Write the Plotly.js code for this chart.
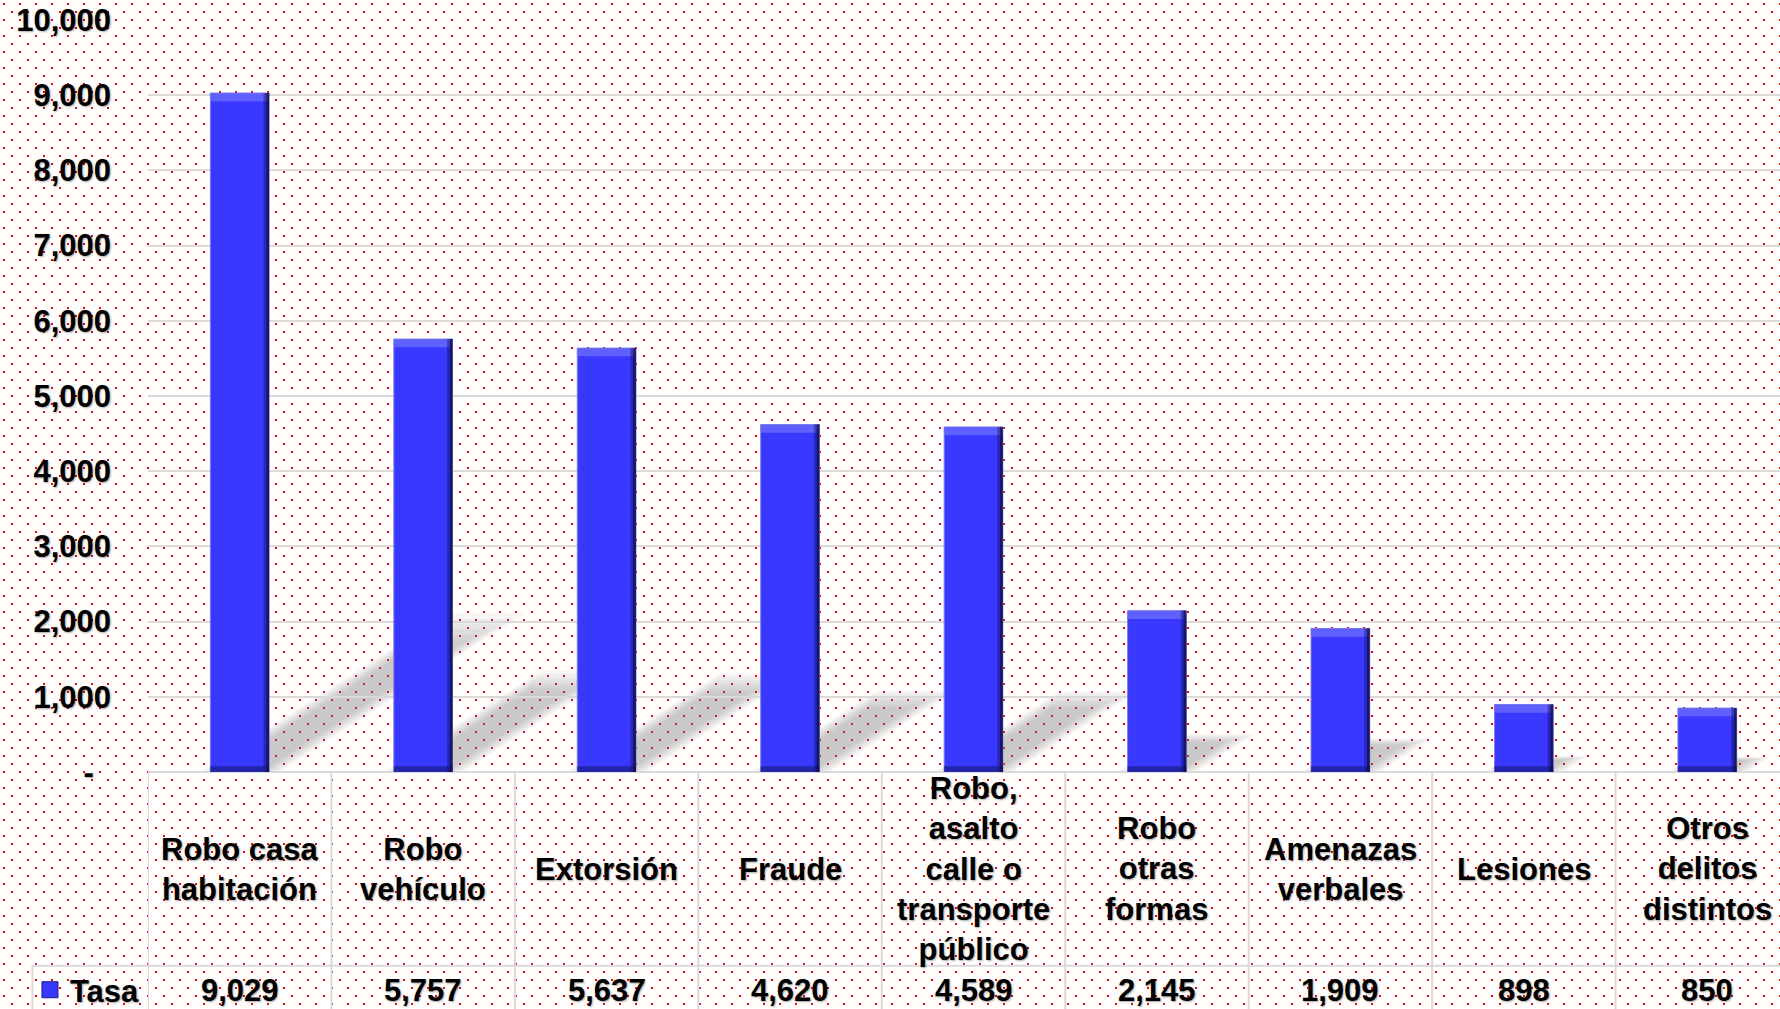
<!DOCTYPE html>
<html>
<head>
<meta charset="utf-8">
<script src="https://cdn.plot.ly/plotly-3.0.1.min.js"></script>
<style>
  html, body {
    margin: 0;
    padding: 0;
    overflow: hidden;
    background-color: #ffffff;
    background-image: url("data:image/svg+xml;utf8,<svg xmlns='http://www.w3.org/2000/svg' width='16' height='16'><rect x='3' y='3' width='2' height='2' fill='%23ff0000'/><rect x='11' y='11' width='2' height='2' fill='%23ff0000'/></svg>");
  }
  #grafico { width: 1800px; height: 1009px; }
</style>
</head>
<body>
<div id="grafico"></div>
<script>
// delitos y tasa por cada 100 mil habitantes
var categorias = [
    'Robo casa<br>habitación',
    'Robo<br>vehículo',
    'Extorsión',
    'Fraude',
    'Robo,<br>asalto<br>calle o<br>transporte<br>público',
    'Robo<br>otras<br>formas',
    'Amenazas<br>verbales',
    'Lesiones',
    'Otros<br>delitos<br>distintos'
];
var tasa = [9029, 5757, 5637, 4620, 4589, 2145, 1909, 898, 850];

var ejeValores = [0, 1000, 2000, 3000, 4000, 5000, 6000, 7000, 8000, 9000, 10000];
var ejeTextos = ['-\u00a0\u00a0', '1,000', '2,000', '3,000', '4,000', '5,000',
                 '6,000', '7,000', '8,000', '9,000', '10,000'];

var fuente = 'Liberation Sans, Arial, sans-serif';
var sombra = '1px 1px 2px rgba(0,0,0,0.35)';
var gris = '#d9d9d9';
var azul = '#3838ff';

var n = categorias.length;
var xs = categorias.map(function(c, i) { return i; });
var medio = 0.16; // media anchura de barra (1 - bargap) / 2

// barra principal
var principal = {
    x: xs, y: tasa, type: 'bar', name: 'Tasa', showlegend: false,
    marker: {color: azul, line: {color: '#8080d8', width: 1}},
    hoverinfo: 'skip'
};
// bisel superior (mas claro)
var biselSup = {
    x: xs, y: tasa.map(function() { return 110; }),
    base: tasa.map(function(v) { return v - 110; }),
    type: 'bar', showlegend: false, hoverinfo: 'skip',
    marker: {color: 'rgba(110,110,255,0.75)'}
};
// bisel inferior (mas oscuro)
var biselInf = {
    x: xs, y: tasa.map(function() { return 75; }),
    type: 'bar', showlegend: false, hoverinfo: 'skip',
    marker: {color: 'rgba(30,30,150,0.8)'}
};
// borde derecho oscuro
var borde1 = {
    x: xs, y: tasa, type: 'bar', showlegend: false, hoverinfo: 'skip',
    width: 0.03, offset: 0.13,
    marker: {color: 'rgba(20,20,110,0.45)'}
};
var borde2 = {
    x: xs, y: tasa, type: 'bar', showlegend: false, hoverinfo: 'skip',
    width: 0.015, offset: 0.145,
    marker: {color: 'rgba(10,10,50,0.6)'}
};
// clave de leyenda "Tasa"
var clave = {
    x: [null], y: [null], type: 'scatter', mode: 'markers', name: 'Tasa',
    marker: {symbol: 'square', size: 16, color: azul, line: {color: '#1a1a80', width: 1}},
    hoverinfo: 'skip'
};

var anotaciones = [];
var formas = [];
for (var i = 0; i < n; i++) {
    anotaciones.push({
        x: i, xref: 'x', y: -0.129, yref: 'paper',
        text: categorias[i], showarrow: false,
        xanchor: 'center', yanchor: 'middle',
        font: {family: fuente, size: 31, color: '#000', weight: 'bold', shadow: sombra}
    });
    anotaciones.push({
        x: i, xref: 'x', y: -0.29, yref: 'paper',
        text: tasa[i].toLocaleString('en-US'), showarrow: false,
        xanchor: 'center', yanchor: 'middle',
        font: {family: fuente, size: 31, color: '#000', weight: 'bold', shadow: sombra}
    });

    // sombra diagonal proyectada detras de cada barra (difuminada en capas)
    var dy = 0.225 * tasa[i];
    var dx = 1.43e-4 * tasa[i];
    for (var j = 0; j < 7; j++) {
        var e = 0.055 - j * 0.017;
        var f = 1.04 - j * 0.035;
        var x0 = i - medio - e, x1 = i + medio + e;
        formas.push({
            type: 'path', xref: 'x', yref: 'y', layer: 'below',
            path: 'M' + x0 + ',0 L' + x1 + ',0 L' + (x1 + dx * f) + ',' + (dy * f) +
                  ' L' + (x0 + dx * f) + ',' + (dy * f) + ' Z',
            fillcolor: 'rgba(120,120,120,0.065)', line: {width: 0}
        });
    }
}
// lineas de la tabla de datos
for (var k = 0; k <= n; k++) {
    formas.push({
        type: 'line', xref: 'x', yref: 'paper',
        x0: k - 0.5, x1: k - 0.5, y0: 0, y1: -0.4,
        line: {color: gris, width: 2}, layer: 'below'
    });
}
formas.push({
    type: 'line', xref: 'paper', yref: 'paper',
    x0: -0.07, x1: 1.01, y0: -0.2575, y1: -0.2575,
    line: {color: gris, width: 2}
});
formas.push({
    type: 'line', xref: 'paper', yref: 'paper',
    x0: -0.07, x1: -0.07, y0: -0.2575, y1: -0.4,
    line: {color: gris, width: 2}
});

var layout = {
    width: 1800, height: 1009,
    margin: {l: 148, r: 1, t: 20, b: 237, autoexpand: false},
    paper_bgcolor: 'rgba(0,0,0,0)',
    plot_bgcolor: 'rgba(0,0,0,0)',
    barmode: 'overlay',
    bargap: 0.68,
    font: {family: fuente, size: 31, color: '#000', weight: 'bold'},
    xaxis: {
        range: [-0.5, n - 0.5], showticklabels: false, showgrid: false,
        zeroline: false, ticks: '', fixedrange: true
    },
    yaxis: {
        range: [0, 10000], tickvals: ejeValores, ticktext: ejeTextos,
        showgrid: true, gridcolor: gris, gridwidth: 2,
        zeroline: true, zerolinecolor: gris, zerolinewidth: 2,
        ticks: '', ticklabelstandoff: 36,
        tickfont: {family: fuente, size: 31, color: '#000', weight: 'bold', shadow: sombra},
        fixedrange: true
    },
    showlegend: true,
    legend: {
        x: -0.0715, xanchor: 'left', y: -0.29, yanchor: 'middle',
        bgcolor: 'rgba(0,0,0,0)',
        font: {family: fuente, size: 31, color: '#000', weight: 'bold', shadow: sombra}
    },
    annotations: anotaciones,
    shapes: formas
};

Plotly.newPlot('grafico', [principal, biselSup, biselInf, borde1, borde2, clave], layout,
    {displayModeBar: false, staticPlot: true});
</script>
</body>
</html>
